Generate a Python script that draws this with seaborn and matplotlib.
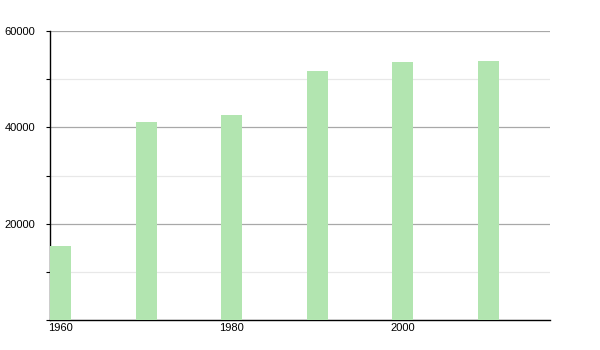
import matplotlib
matplotlib.use("Agg")
import matplotlib.pyplot as plt
import seaborn as sns
import pandas as pd
from matplotlib.ticker import MultipleLocator

years = [1960, 1970, 1980, 1990, 2000, 2010]
population = [15400, 41100, 42600, 51700, 53600, 53800]
xtick_labels = ["1960", "1980", "2000"]

df = pd.DataFrame({"year": years, "population": population})

sns.set_theme(style="white")
plt.rcParams['font.family'] = ['Liberation Sans', 'DejaVu Sans']

fig = plt.figure(figsize=(6, 3.5), dpi=100)
ax = fig.add_axes([50/600, 30/350, 500/600, 289/350])

sns.barplot(data=df, x="year", y="population", native_scale=True, width=0.245,
            color="#b2e5b0", saturation=1, ax=ax, zorder=3, linewidth=0)

ax.set_xlim(1958.77, 2017.2)
ax.set_ylim(0, 60000)
ax.yaxis.set_major_locator(MultipleLocator(20000))
ax.yaxis.set_minor_locator(MultipleLocator(10000))
ax.set_yticks([20000, 40000, 60000])
ax.set_yticklabels(["20000", "40000", "60000"])
ax.set_xticks([int(t) for t in xtick_labels])
ax.set_xticklabels(xtick_labels)
ax.grid(which="major", axis="y", color="#a8a8a8", linewidth=0.9, zorder=1)
ax.grid(which="minor", axis="y", color="#e8e8e8", linewidth=0.9, zorder=1)
ax.set_axisbelow(True)

for s in ["top", "right"]:
    ax.spines[s].set_visible(False)
for s in ["left", "bottom"]:
    ax.spines[s].set_visible(True)
    ax.spines[s].set_color("black")
    ax.spines[s].set_linewidth(1.0)

ax.tick_params(axis="y", which="both", left=True, length=3, width=0.8, color="black",
               labelsize=8, pad=7.5, labelcolor="black")
ax.tick_params(axis="x", which="both", bottom=False, length=0, labelsize=8, pad=2,
               labelcolor="black")
ax.set_xlabel("")
ax.set_ylabel("")

fig.savefig("out.png", dpi=100)
